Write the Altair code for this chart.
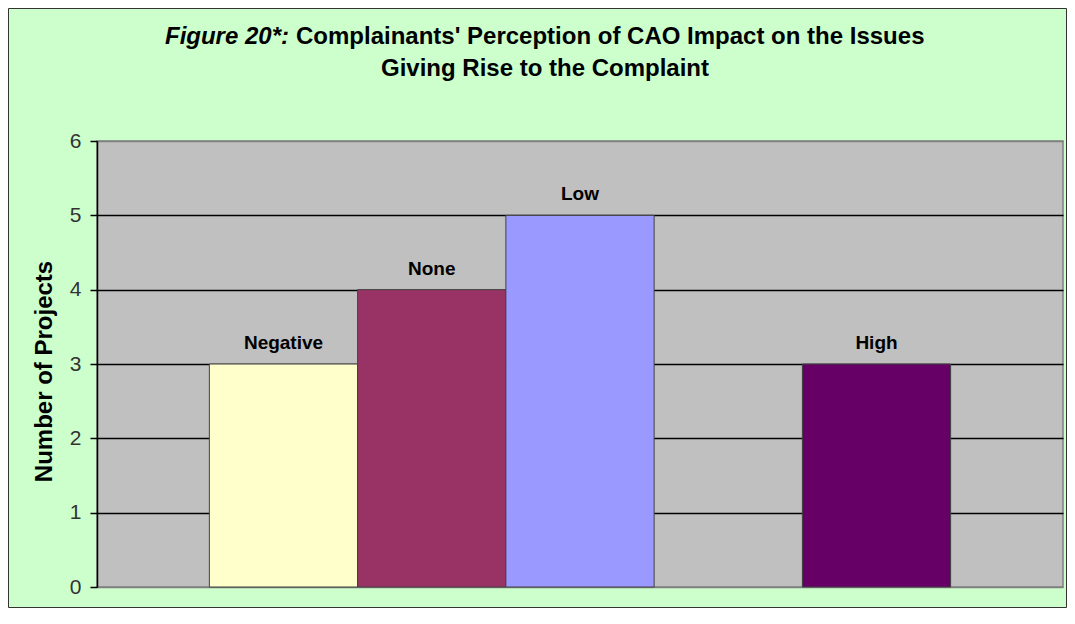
import altair as alt
import pandas as pd

categories = ["Negative", "None", "Low", "Medium", "High"]
values = [3, 4, 5, None, 3]
bar_colors = ["#FFFFCC", "#993366", "#9999FF", "#CCFFFF", "#660066"]
y_ticks = [0, 1, 2, 3, 4, 5, 6]

title_italic = "Figure 20*:"
title_rest = "Complainants' Perception of CAO Impact on the Issues"
title_line2 = "Giving Rise to the Complaint"

FONT = "Liberation Sans"
PLOT_W = 966
PLOT_H = 446

df = pd.DataFrame({"category": categories, "value": values})

x_enc = alt.X("category:N", sort=categories,
              scale=alt.Scale(domain=categories, paddingInner=0, paddingOuter=0.758),
              axis=None)
y_enc = alt.Y("value:Q",
              scale=alt.Scale(domain=[0, 6], nice=False),
              axis=alt.Axis(values=y_ticks, format="d", title="Number of Projects",
                            labelFont=FONT, labelFontSize=21, labelColor="#333333",
                            labelPadding=9, tickSize=7, tickColor="black", tickWidth=1.5,
                            domainColor="black", domainWidth=1.5,
                            grid=True,
                            gridColor={"condition": {"test": "datum.value == 0 || datum.value == 6",
                                                     "value": "#808080"},
                                       "value": "black"},
                            gridWidth=1.5,
                            titleFont=FONT, titleFontSize=24, titleFontWeight="bold",
                            titleColor="black", titlePadding=13, titleY=230))

bars = alt.Chart(df).mark_bar(stroke="#404040", strokeWidth=1).encode(
    x=x_enc,
    y=y_enc,
    color=alt.Color("category:N", scale=alt.Scale(domain=categories, range=bar_colors),
                    legend=None),
)

labels = alt.Chart(df).mark_text(font=FONT, fontSize=19, fontWeight="bold",
                                 color="black", baseline="alphabetic", dy=-15).encode(
    x=x_enc,
    y=alt.Y("value:Q", scale=alt.Scale(domain=[0, 6], nice=False)),
    text="category:N",
)

one = alt.Data(values=[{"a": 1}])

t1a = alt.Chart(one).mark_text(font=FONT, fontSize=24, fontWeight="bold", fontStyle="italic",
                               align="right", baseline="alphabetic", color="black").encode(
    x=alt.value(192), y=alt.value(-97), text=alt.value(title_italic))
t1b = alt.Chart(one).mark_text(font=FONT, fontSize=24, fontWeight="bold",
                               align="left", baseline="alphabetic", color="black").encode(
    x=alt.value(199), y=alt.value(-97), text=alt.value(title_rest))
t2 = alt.Chart(one).mark_text(font=FONT, fontSize=24, fontWeight="bold",
                              align="center", baseline="alphabetic", color="black").encode(
    x=alt.value(448), y=alt.value(-65), text=alt.value(title_line2))

border = alt.Chart(one).mark_rect(filled=False, stroke="#333333", strokeWidth=1).encode(
    x=alt.value(-88.5), x2=alt.value(PLOT_W + 3.5),
    y=alt.value(-132.5), y2=alt.value(PLOT_H + 20.5))

chart = alt.layer(bars, labels, t1a, t1b, t2, border).properties(
    width=PLOT_W, height=PLOT_H,
    padding={"left": 89, "top": 133, "right": 4, "bottom": 21},
    autosize=alt.AutoSizeParams(type="none"),
    background="#CCFFCC",
).configure_view(fill="#C0C0C0", stroke="#808080", strokeWidth=1.5)

chart.save("out.html", embed_options={"renderer": "svg", "actions": False})
